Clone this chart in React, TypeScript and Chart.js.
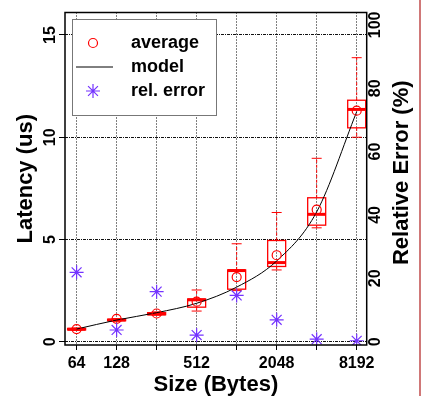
import React, { useEffect, useRef } from "react";
import { Chart, registerables } from "chart.js";

Chart.register(...registerables);

// ---- data ----
const sizes = [64, 128, 256, 512, 1024, 2048, 4096, 8192];
const xTickLabels = ["64", "128", "", "512", "", "2048", "", "8192"];
const avgLatency = [0.62, 1.12, 1.38, 1.96, 3.16, 4.23, 6.46, 11.3];
const modelLatency = [0.62, 1.06, 1.42, 1.88, 2.67, 3.95, 6.35, 11.25];
const relError = [21.9, 3.7, 15.8, 2.1, 14.6, 6.9, 0.8, 0.3];
const whiskerMin = [0.56, 1.01, 1.3, 1.5, 2.5, 3.51, 5.57, 10.0];
const q1 = [0.58, 1.03, 1.32, 1.69, 2.57, 3.68, 5.7, 10.46];
const median = [0.61, 1.06, 1.36, 2.05, 3.48, 3.87, 6.23, 11.36];
const q3 = [0.65, 1.1, 1.42, 2.09, 3.51, 4.95, 7.04, 11.81];
const whiskerMax = [0.67, 1.13, 1.46, 2.53, 4.79, 6.32, 8.97, 13.89];
const leftTicks = [0, 5, 10, 15];
const rightTicks = [0, 20, 40, 60, 80, 100];
const legendLabels = ["average", "model", "rel. error"];
const xTitle = "Size (Bytes)";
const yTitle = "Latency (us)";
const y1Title = "Relative Error (%)";

const RED = "#ff0000";
const PURPLE = "#7433ff";
const FONT = "'Liberation Sans', Arial, Helvetica, sans-serif";

const boxPlugin = {
  id: "boxes",
  beforeDatasetsDraw(chart: any) {
    const { ctx } = chart;
    const xs = chart.scales.x;
    const ys = chart.scales.y;
    ctx.save();
    ctx.strokeStyle = RED;
    sizes.forEach((s, i) => {
      const x = xs.getPixelForValue(s);
      const pMin = ys.getPixelForValue(whiskerMin[i]);
      const pQ1 = ys.getPixelForValue(q1[i]);
      const pMed = ys.getPixelForValue(median[i]);
      const pQ3 = ys.getPixelForValue(q3[i]);
      const pMax = ys.getPixelForValue(whiskerMax[i]);
      // whiskers
      ctx.lineWidth = 1;
      ctx.setLineDash([3, 2]);
      ctx.beginPath();
      ctx.moveTo(x, pQ3);
      ctx.lineTo(x, pMax);
      ctx.moveTo(x, pQ1);
      ctx.lineTo(x, pMin);
      ctx.stroke();
      ctx.setLineDash([]);
      ctx.beginPath();
      ctx.moveTo(x - 5, pMax);
      ctx.lineTo(x + 5, pMax);
      ctx.moveTo(x - 5, pMin);
      ctx.lineTo(x + 5, pMin);
      ctx.stroke();
      // box
      ctx.lineWidth = 1.3;
      ctx.strokeRect(x - 9, pQ3, 18, pQ1 - pQ3);
      // median
      ctx.lineWidth = 3;
      ctx.beginPath();
      ctx.moveTo(x - 9, pMed);
      ctx.lineTo(x + 9, pMed);
      ctx.stroke();
    });
    ctx.restore();
  },
};

const decorPlugin = {
  id: "decor",
  afterDraw(chart: any) {
    const { ctx, chartArea } = chart;
    const ys = chart.scales.y;
    const y1 = chart.scales.y1;
    ctx.save();
    // legend box
    const lx = 72, ly = 19, lw = 144, lh = 96;
    ctx.fillStyle = "#ffffff";
    ctx.fillRect(lx, ly, lw, lh);
    ctx.strokeStyle = "#777777";
    ctx.lineWidth = 1;
    ctx.strokeRect(lx + 0.5, ly + 0.5, lw, lh);
    const rows = [43, 67, 91];
    // average marker
    ctx.strokeStyle = RED;
    ctx.lineWidth = 1.2;
    ctx.beginPath();
    ctx.arc(93, rows[0], 4.5, 0, Math.PI * 2);
    ctx.stroke();
    // model marker
    ctx.strokeStyle = "#000";
    ctx.lineWidth = 1;
    ctx.beginPath();
    ctx.moveTo(76, rows[1]);
    ctx.lineTo(113, rows[1]);
    ctx.stroke();
    // rel error marker (star)
    ctx.strokeStyle = PURPLE;
    ctx.lineWidth = 1.2;
    ctx.beginPath();
    for (let k = 0; k < 4; k++) {
      const a = (k * Math.PI) / 4;
      ctx.moveTo(93 + 7 * Math.cos(a), rows[2] + 7 * Math.sin(a));
      ctx.lineTo(93 - 7 * Math.cos(a), rows[2] - 7 * Math.sin(a));
    }
    ctx.stroke();
    ctx.fillStyle = "#000";
    ctx.font = `bold 18px ${FONT}`;
    ctx.textAlign = "left";
    ctx.textBaseline = "middle";
    legendLabels.forEach((t, i) => ctx.fillText(t, 131, rows[i]));

    // plot frame
    ctx.strokeStyle = "#000";
    ctx.lineWidth = 1.5;
    ctx.strokeRect(chartArea.left, chartArea.top, chartArea.right - chartArea.left, chartArea.bottom - chartArea.top);

    // rotated y tick labels
    ctx.font = `bold 16px ${FONT}`;
    ctx.textAlign = "center";
    ctx.textBaseline = "middle";
    leftTicks.forEach((v) => {
      const py = ys.getPixelForValue(v);
      ctx.save();
      ctx.translate(51, py);
      ctx.rotate(-Math.PI / 2);
      ctx.fillText(String(v), 0, 0);
      ctx.restore();
    });
    rightTicks.forEach((v) => {
      const py = y1.getPixelForValue(v);
      ctx.save();
      ctx.translate(376, py);
      ctx.rotate(-Math.PI / 2);
      ctx.fillText(String(v), 0, 0);
      ctx.restore();
    });
    // right axis title (reads bottom-to-top)
    ctx.font = `bold 22px ${FONT}`;
    ctx.save();
    ctx.translate(402, (chartArea.top + chartArea.bottom) / 2 - 6);
    ctx.rotate(-Math.PI / 2);
    ctx.fillText(y1Title, 0, 0);
    ctx.restore();
    ctx.restore();
  },
};

export default function App() {
  const ref = useRef<HTMLCanvasElement | null>(null);
  useEffect(() => {
    if (!ref.current) return;
    const chart = new Chart(ref.current, {
      type: "line",
      data: {
        datasets: [
          {
            label: legendLabels[2],
            data: sizes.map((s, i) => ({ x: s, y: relError[i] })),
            yAxisID: "y1",
            showLine: false,
            pointStyle: "star",
            pointRadius: 7,
            borderColor: PURPLE,
            backgroundColor: PURPLE,
            pointBorderWidth: 1.2,
          },
          {
            label: legendLabels[0],
            data: sizes.map((s, i) => ({ x: s, y: avgLatency[i] })),
            yAxisID: "y",
            showLine: false,
            pointStyle: "circle",
            pointRadius: 4.5,
            borderColor: RED,
            backgroundColor: "rgba(0,0,0,0)",
            pointBorderWidth: 1.2,
          },
          {
            label: legendLabels[1],
            data: sizes.map((s, i) => ({ x: s, y: modelLatency[i] })),
            yAxisID: "y",
            borderColor: "#000",
            borderWidth: 1,
            pointRadius: 0,
            cubicInterpolationMode: "monotone",
            fill: false,
          },
        ],
      },
      options: {
        responsive: false,
        animation: false,
        layout: { padding: { top: 12.5, left: 0, right: 0, bottom: 0 } },
        plugins: { legend: { display: false }, tooltip: { enabled: false } },
        scales: {
          x: {
            type: "logarithmic",
            position: "bottom",
            min: Math.pow(2, 5.71),
            max: Math.pow(2, 13.25),
            afterBuildTicks: (scale: any) => {
              scale.ticks = sizes.map((v) => ({ value: v }));
            },
            afterFit: (scale: any) => {
              scale.height = 60;
            },
            ticks: {
              autoSkip: false,
              maxRotation: 0,
              minRotation: 0,
              padding: 4,
              color: "#000",
              font: { family: FONT, size: 16, weight: "bold" },
              callback: (v: any) => {
                const i = sizes.indexOf(Number(v));
                return i >= 0 ? xTickLabels[i] : "";
              },
            },
            grid: {
              color: "#000",
              lineWidth: 1,
              tickLength: 5,
              tickColor: "#000",
              tickBorderDash: [],
            },
            border: { display: false, dash: [1, 2] },
            title: {
              display: true,
              text: xTitle,
              color: "#000",
              font: { family: FONT, size: 22, weight: "bold" },
              padding: { top: 0, bottom: 7 },
            },
          },
          y: {
            type: "linear",
            position: "left",
            min: -0.16,
            max: 16.1,
            afterBuildTicks: (scale: any) => {
              scale.ticks = leftTicks.map((v) => ({ value: v }));
            },
            afterFit: (scale: any) => {
              scale.width = 65;
            },
            ticks: { display: false },
            grid: {
              color: "#111",
              lineWidth: 1,
              tickLength: 6,
              tickColor: "#000",
              tickBorderDash: [],
            },
            border: { display: false, dash: [3, 1, 1, 1] },
            title: {
              display: true,
              text: yTitle,
              color: "#000",
              font: { family: FONT, size: 22, weight: "bold" },
              padding: { top: 13, bottom: 0 },
            },
          },
          y1: {
            type: "linear",
            position: "right",
            min: -1.04,
            max: 103.9,
            afterBuildTicks: (scale: any) => {
              scale.ticks = rightTicks.map((v) => ({ value: v }));
            },
            afterFit: (scale: any) => {
              scale.width = 55.3;
            },
            ticks: { display: false },
            grid: { display: false, drawOnChartArea: false },
            border: { display: false },
          },
        },
      },
      plugins: [boxPlugin, decorPlugin],
    });
    return () => chart.destroy();
  }, []);
  return (
    <div style={{ position: "fixed", left: 0, top: 0, width: 422, height: 405, background: "#fff" }}>
      <canvas ref={ref} width={422} height={405} style={{ display: "block" }} />
      <div style={{ position: "absolute", left: 419, top: 0, width: 2, height: 396, background: "#d07878" }} />
    </div>
  );
}
